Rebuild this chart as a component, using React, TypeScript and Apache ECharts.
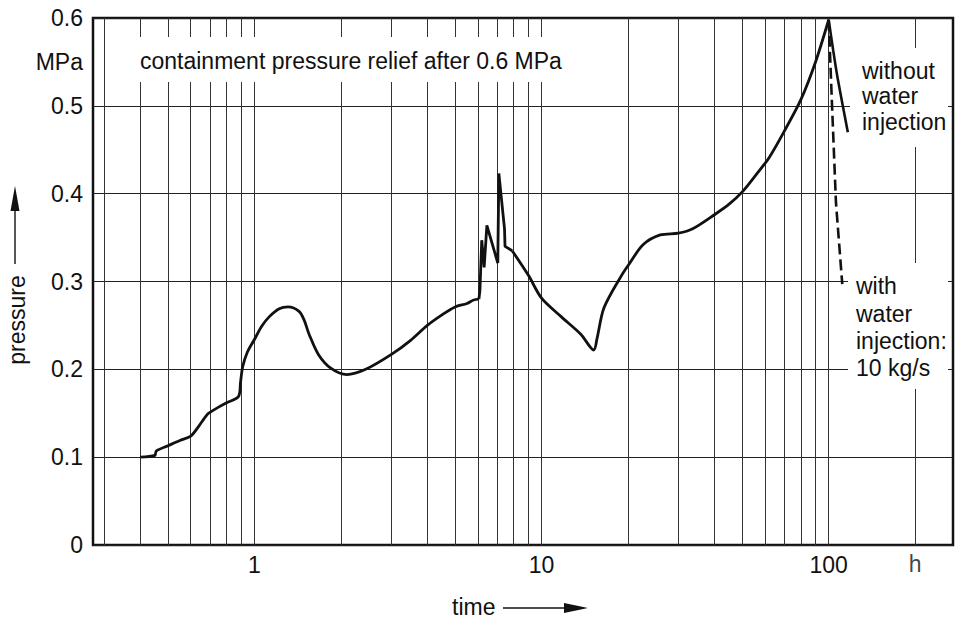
import React, { useEffect, useRef } from "react";
import * as echarts from "echarts";

const FONT = '"Liberation Sans", Arial, Helvetica, sans-serif';
const INK = "#111";
const FONT_SIZE = 23;

// Time axis (hours, logarithmic)
const TIME_MIN = 0.274;
const TIME_MAX = 271;
const TIME_GRID = [
  0.3, 0.4, 0.5, 0.6, 0.7, 0.8, 0.9,
  1, 2, 3, 4, 5, 6, 7, 8, 9,
  10, 20, 30, 40, 50, 60, 70, 80, 90,
  100, 200,
];
const TIME_UNIT_AT = 200;
const TIME_UNIT = "h";

// Pressure axis (MPa)
const PRESSURE_MIN = 0;
const PRESSURE_MAX = 0.6;
const PRESSURE_STEP = 0.1;

// Early build-up, 0.4 h to 6 h
const riseTime = [
  0.4, 0.45, 0.455, 0.5, 0.55, 0.6, 0.636, 0.682, 0.7, 0.75, 0.8, 0.88,
  0.895, 0.91, 0.946, 1.0, 1.06, 1.127, 1.22, 1.31, 1.43, 1.49, 1.55, 1.67,
  1.85, 2.1, 2.44, 3.0, 3.5, 4.0, 4.5, 5.0, 5.5, 5.8, 6.05,
];
const risePressure = [
  0.1, 0.102, 0.107, 0.113, 0.119, 0.124, 0.134, 0.148, 0.151, 0.157, 0.162,
  0.169, 0.186, 0.203, 0.22, 0.234, 0.249, 0.26, 0.269, 0.271, 0.266, 0.256,
  0.24, 0.217, 0.201, 0.194, 0.2, 0.217, 0.233, 0.25, 0.262, 0.271, 0.275,
  0.279, 0.28,
];

// Pressure spikes around 6 h to 8 h
const spikeTime = [6.05, 6.1, 6.19, 6.31, 6.45, 7.04, 7.1, 7.43, 7.46, 7.9];
const spikePressure = [0.28, 0.29, 0.347, 0.316, 0.364, 0.321, 0.423, 0.36, 0.34, 0.335];

// Decay, minimum near 15 h, then rise to the relief point at 100 h
const lateTime = [
  7.9, 9.0, 10, 11.7, 13.7, 15.2, 15.6, 16.5, 19.0, 20, 22.6, 25.9, 30, 33.6,
  40, 45, 50, 56, 62, 70, 80, 90, 100,
];
const latePressure = [
  0.335, 0.307, 0.281, 0.26, 0.24, 0.222, 0.235, 0.27, 0.307, 0.318, 0.342,
  0.353, 0.355, 0.36, 0.376, 0.388, 0.402, 0.422, 0.441, 0.471, 0.507, 0.55,
  0.598,
];

// After relief: without water injection
const dryTime = [100, 103.7, 107.5, 116.6];
const dryPressure = [0.598, 0.563, 0.531, 0.47];

// After relief: with water injection, 10 kg/s
const wetTime = [100, 102.8, 106, 111.5];
const wetPressure = [0.598, 0.498, 0.39, 0.297];

const pairs = (xs: number[], ys: number[]) => xs.map((x, i) => [x, ys[i]]);

const textStyle = (text: string, extra: Record<string, unknown> = {}) => ({
  text,
  font: `${FONT_SIZE}px ${FONT}`,
  fill: INK,
  align: "left",
  verticalAlign: "middle",
  ...extra,
});

const curve = (data: number[][], smooth: number | boolean, extra: Record<string, unknown> = {}) => ({
  type: "line",
  data,
  symbol: "none",
  silent: true,
  smooth,
  z: 3,
  lineStyle: { color: INK, width: 2.8 },
  ...extra,
});

export default function App() {
  const ref = useRef<HTMLDivElement>(null);

  useEffect(() => {
    if (!ref.current) return;
    const chart = echarts.init(ref.current, undefined, { renderer: "svg" });

    const option = {
      animation: false,
      backgroundColor: "#fff",
      grid: {
        left: 93,
        right: 5,
        top: 18,
        bottom: 80,
        show: true,
        borderColor: INK,
        borderWidth: 2.5,
        backgroundColor: "transparent",
      },
      xAxis: {
        type: "log",
        logBase: 10,
        min: TIME_MIN,
        max: TIME_MAX,
        axisLine: { show: false },
        axisTick: { show: false },
        splitLine: { show: false },
        minorSplitLine: { show: false },
        axisLabel: {
          color: INK,
          fontSize: FONT_SIZE,
          fontFamily: FONT,
          margin: 8,
          showMinLabel: false,
          showMaxLabel: false,
          formatter: (v: number) => String(Math.round(v)),
        },
      },
      yAxis: {
        type: "value",
        min: PRESSURE_MIN,
        max: PRESSURE_MAX,
        interval: PRESSURE_STEP,
        axisLine: { show: false },
        axisTick: { show: false },
        splitLine: { show: true, lineStyle: { color: "#222", width: 1 } },
        axisLabel: {
          color: INK,
          fontSize: FONT_SIZE,
          fontFamily: FONT,
          margin: 10,
          formatter: (v: number) => (v === 0 ? "0" : v.toFixed(1)),
        },
      },
      series: [
        curve(pairs(riseTime, risePressure), 0.3, {
          markLine: {
            silent: true,
            z: 1,
            symbol: ["none", "none"],
            label: { show: false },
            emphasis: { disabled: true },
            lineStyle: { color: "#333", width: 1, type: "solid" },
            data: TIME_GRID.map((t) => ({ xAxis: t })),
          },
        }),
        curve(pairs(spikeTime, spikePressure), false),
        curve(pairs(lateTime, latePressure), 0.3),
        curve(pairs(dryTime, dryPressure), 0.3, { lineStyle: { color: INK, width: 2.6 } }),
        curve(pairs(wetTime, wetPressure), false, {
          lineStyle: { color: INK, width: 2.6, type: [11, 5] },
        }),
        {
          type: "scatter",
          data: [[TIME_UNIT_AT, PRESSURE_MIN]],
          symbolSize: 1,
          clip: false,
          silent: true,
          itemStyle: { color: "transparent" },
          label: {
            show: true,
            position: "bottom",
            distance: 7,
            formatter: TIME_UNIT,
            fontSize: FONT_SIZE,
            fontFamily: FONT,
            color: INK,
          },
        },
      ],
      graphic: [
        // title panel
        { type: "rect", z: 10, shape: { x: 132, y: 37, width: 445, height: 45 }, style: { fill: "#fff" } },
        { type: "text", z: 11, x: 140, y: 61, style: textStyle("containment pressure relief after 0.6 MPa") },
        { type: "text", z: 11, x: 83, y: 62, style: textStyle("MPa", { align: "right" }) },
        // branch notes
        { type: "rect", z: 10, shape: { x: 850, y: 48, width: 98, height: 99 }, style: { fill: "#fff" } },
        { type: "text", z: 11, x: 862, y: 71, style: textStyle("without") },
        { type: "text", z: 11, x: 862, y: 96, style: textStyle("water") },
        { type: "text", z: 11, x: 862, y: 122, style: textStyle("injection") },
        { type: "rect", z: 10, shape: { x: 848, y: 263, width: 100, height: 126 }, style: { fill: "#fff" } },
        { type: "text", z: 11, x: 856, y: 286, style: textStyle("with") },
        { type: "text", z: 11, x: 856, y: 314, style: textStyle("water") },
        { type: "text", z: 11, x: 856, y: 341, style: textStyle("injection:") },
        { type: "text", z: 11, x: 856, y: 368, style: textStyle("10 kg/s") },
        // axis names with arrows
        {
          type: "text",
          z: 11,
          x: 17,
          y: 320,
          rotation: Math.PI / 2,
          style: textStyle("pressure", { align: "center" }),
        },
        { type: "line", z: 11, shape: { x1: 15, y1: 264, x2: 15, y2: 206 }, style: { stroke: INK, lineWidth: 1.4 } },
        { type: "polygon", z: 11, shape: { points: [[15, 186], [10.5, 211], [19.5, 211]] }, style: { fill: INK } },
        { type: "text", z: 11, x: 452, y: 607, style: textStyle("time") },
        { type: "line", z: 11, shape: { x1: 503, y1: 608, x2: 570, y2: 608 }, style: { stroke: INK, lineWidth: 1.4 } },
        { type: "polygon", z: 11, shape: { points: [[588, 608], [564, 603], [564, 613]] }, style: { fill: INK } },
      ],
    };

    chart.setOption(option as any);
    return () => chart.dispose();
  }, []);

  return (
    <div
      ref={ref}
      style={{ position: "fixed", left: 0, top: 0, width: 958, height: 625, background: "#fff" }}
    />
  );
}
